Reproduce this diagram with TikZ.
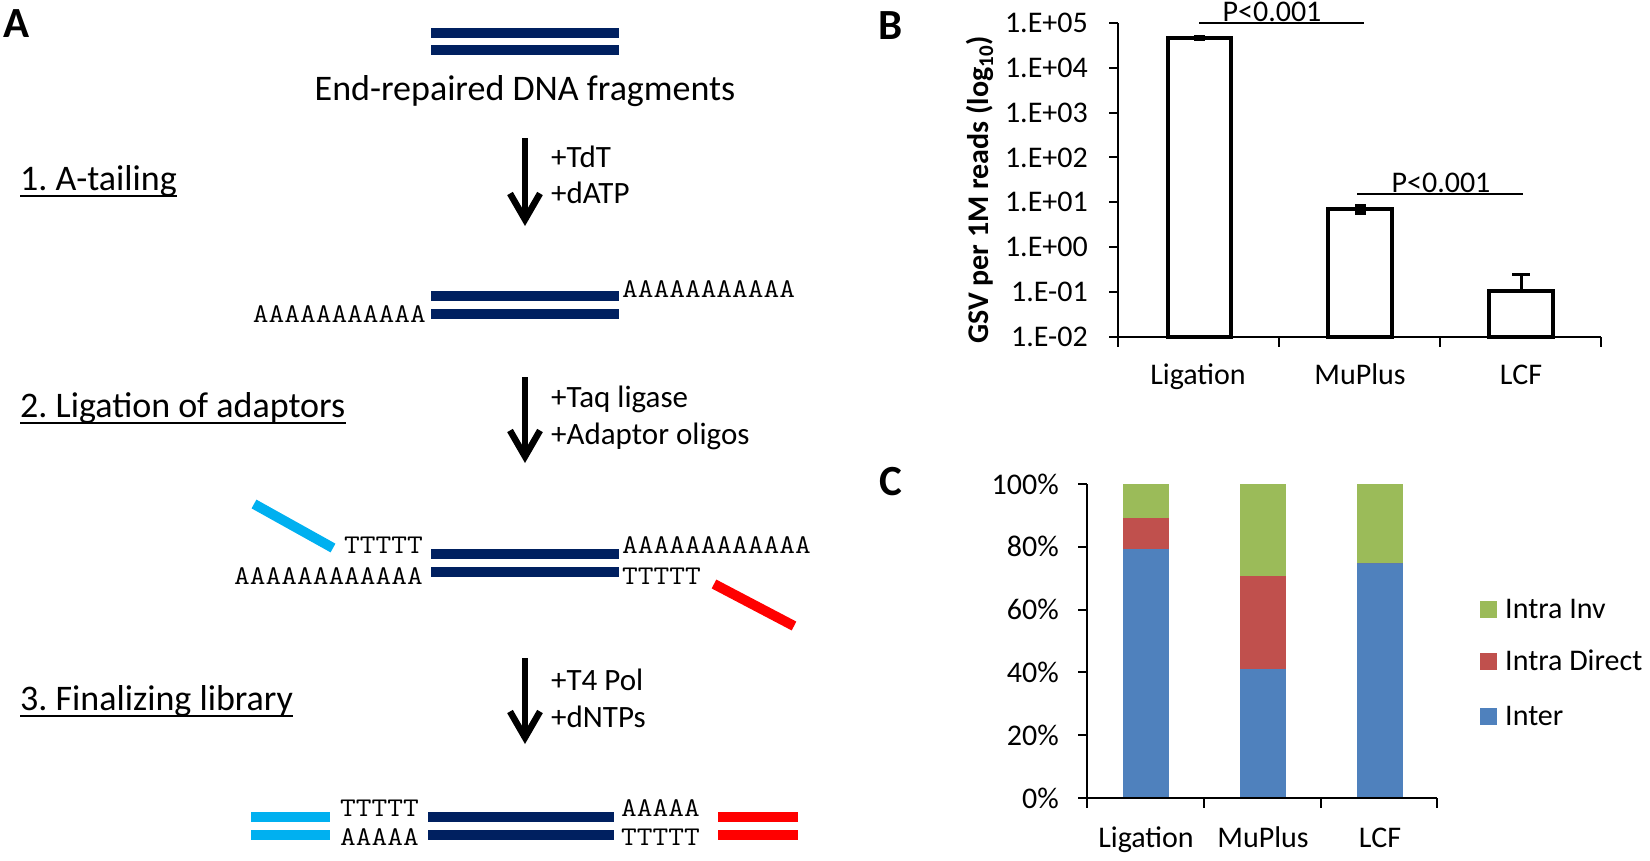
\documentclass[tikz,border=0pt]{standalone}
\usepackage{fontspec}
\setmainfont{Carlito}
\usepackage{graphicx}
\usepackage{tikz}
\usetikzlibrary{positioning}
\usetikzlibrary{arrows.meta}
\definecolor{navy}{HTML}{002060}
\definecolor{adcyan}{HTML}{00B0F0}
\definecolor{adred}{HTML}{FF0000}
\definecolor{xlblue}{HTML}{4F81BD}
\definecolor{xlred}{HTML}{C0504D}
\definecolor{xlgreen}{HTML}{9BBB59}
\newcommand\dna[1]{\scalebox{1.13}[1]{#1}}
\tikzset{%
  panel/.style = {inner sep=0pt,font=\fontsize{43}{43}\selectfont\bfseries},
  stepname/.style = {inner sep=0pt,anchor=base west,
        font=\fontsize{36}{40}\selectfont},
  reagent/.style = {inner sep=0pt,anchor=base west,
        font=\fontsize{31}{36}\selectfont},
  seq/.style = {inner sep=0pt,font=\fontsize{27}{29}\ttfamily},
  strand/.style = {line width=10.5pt,navy},
  adaptl/.style = {line width=10pt,adcyan},
  adaptr/.style = {line width=10pt,adred},
  reaction/.style = {line width=6pt,
        -{Straight Barb[length=26pt,width=30pt,line width=6.5pt]}},
  ticklbl/.style = {inner sep=0pt,anchor=east,
        font=\fontsize{30}{32}\selectfont},
  catlbl/.style = {inner sep=0pt,anchor=base,
        font=\fontsize{30}{32}\selectfont},
  axis/.style = {line width=2pt},
  logbar/.style = {line width=3.5pt,fill=white}
}

\begin{document}
\frenchspacing
\begin{tikzpicture}[x=1pt,y=-1pt]
  \useasboundingbox (0,0) rectangle (1650,860);

  % panel A
  \node[panel] (pa) at (17,24) {A};
  \node[stepname,anchor=base] (frag) at (525,100) {End-repaired DNA fragments};
  \draw[strand] (431,33) -- (619,33);
  \draw[strand] (431,50) -- (619,50);

  \node[stepname] (s1) at (20,190) {1. A-tailing};
  \node[stepname] (s2) at (20,417) {2. Ligation of adaptors};
  \node[stepname] (s3) at (20,710) {3. Finalizing library};
  \foreach \s in {s1,s2,s3}
    \draw[line width=2pt] ([yshift=-6pt]\s.base west) -- ([yshift=-6pt]\s.base east);

  \coordinate (t1) at (525,138);
  \coordinate (b1) at (525,226);
  \coordinate (t2) at (525,377);
  \coordinate (b2) at (525,463);
  \coordinate (t3) at (525,658);
  \coordinate (b3) at (525,744);
  \draw[reaction] (t1) -- (b1);
  \draw[reaction] (t2) -- (b2);
  \draw[reaction] (t3) -- (b3);

  \node[reagent] (tdt) at (551,167) {+TdT};
  \node[reagent] (datp) at ([yshift=-36pt]tdt.base west) {+dATP};
  \node[reagent] (taq) at (551,407) {+Taq ligase};
  \node[reagent] (oligo) at ([yshift=-37pt]taq.base west) {+Adaptor oligos};
  \node[reagent] (pol) at (551,690) {+T4 Pol};
  \node[reagent] (dntp) at ([yshift=-37pt]pol.base west) {+dNTPs};

  \draw[strand] (431,296) -- (619,296);
  \draw[strand] (431,314) -- (619,314);
  \node[seq,anchor=base west] (ta1) at (622,297) {\dna{AAAAAAAAAAA}};
  \node[seq,anchor=base east] (ta2) at (426,322) {\dna{AAAAAAAAAAA}};

  \draw[strand] (431,554) -- (619,554);
  \draw[strand] (431,572) -- (619,572);
  \node[seq,anchor=base east] (lt1) at (423,553) {\dna{TTTTT}};
  \node[seq,anchor=base west] (la1) at (622,553) {\dna{AAAAAAAAAAAA}};
  \node[seq,anchor=base east] (la2) at (423,584) {\dna{AAAAAAAAAAAA}};
  \node[seq,anchor=base west] (lt2) at (622,584) {\dna{TTTTT}};
  \draw[adaptl] (254,504) -- (333,548);
  \draw[adaptr] (714,584) -- (794,626);

  \draw[strand] (428,817) -- (614,817);
  \draw[strand] (428,835) -- (614,835);
  \draw[adaptl] (251,817) -- (330,817);
  \draw[adaptl] (251,835) -- (330,835);
  \draw[adaptr] (718,817) -- (798,817);
  \draw[adaptr] (718,835) -- (798,835);
  \node[seq,anchor=base east] (ft1) at (419,816) {\dna{TTTTT}};
  \node[seq,anchor=base east] (fa1) at (419,845) {\dna{AAAAA}};
  \node[seq,anchor=base west] (fa2) at (621,816) {\dna{AAAAA}};
  \node[seq,anchor=base west] (ft2) at (621,845) {\dna{TTTTT}};

  % panel B
  \node[panel] (pb) at (891,26) {B};
  \node[inner sep=0pt,anchor=base,rotate=90,font=\fontsize{30}{32}\selectfont\bfseries]
    (ylab) at (988,190) {GSV per 1M reads (log\textsubscript{10})};
  \draw[logbar] (1168,337) rectangle (1231,38);
  \draw[logbar] (1328,337) rectangle (1392,209);
  \draw[logbar] (1489,337) rectangle (1553,291);
  \fill (1194,35) rectangle (1205,41);
  \fill (1355,204) rectangle (1366,215);
  \draw[line width=3pt] (1521,291) -- (1521,274);
  \draw[line width=3pt] (1512,274) -- (1530,274);
  \draw[axis] (1118,23) -- (1118,337) -- (1601,337);
  \foreach \k/\lbl in {0/1.E-02,1/1.E-01,2/1.E+00,3/1.E+01,4/1.E+02,5/1.E+03,6/1.E+04,7/1.E+05}{
    \draw[axis] (1109,337-44.9*\k) -- (1118,337-44.9*\k);
    \node[ticklbl] (yb\k) at (1088,337-44.9*\k) {\lbl};
  }
  \foreach \x in {1118,1279,1440,1601}
    \draw[axis] (\x,337) -- (\x,347);
  \node[catlbl] (bl1) at (1198,384) {Ligation};
  \node[catlbl] (bl2) at (1360,384) {MuPlus};
  \node[catlbl] (bl3) at (1521,384) {LCF};
  \draw[axis] (1199,23) -- (1364,23);
  \node[catlbl] (p1) at (1272,21) {P<0.001};
  \draw[axis] (1357,194) -- (1523,194);
  \node[catlbl] (p2) at (1441,192) {P<0.001};

  % panel C
  \node[panel] (pc) at (891,482) {C};
  \foreach \cx/\a/\b in {1146/0.793/0.892,1263/0.411/0.706,1380/0.748/0.748}{
    \fill[xlblue] (\cx-23,798) rectangle (\cx+23,798-314*\a);
    \fill[xlred] (\cx-23,798-314*\a) rectangle (\cx+23,798-314*\b);
    \fill[xlgreen] (\cx-23,798-314*\b) rectangle (\cx+23,484);
  }
  \draw[axis] (1087,484) -- (1087,798) -- (1437,798);
  \foreach \k in {0,...,5}{
    \pgfmathtruncatemacro\pct{20*\k}
    \draw[axis] (1078,798-62.8*\k) -- (1087,798-62.8*\k);
    \node[ticklbl] (yc\k) at (1059,798-62.8*\k) {\pct\%};
  }
  \foreach \x in {1087,1204,1321,1437}
    \draw[axis] (\x,798) -- (\x,808);
  \node[catlbl] (cl1) at (1146,847) {Ligation};
  \node[catlbl] (cl2) at (1263,847) {MuPlus};
  \node[catlbl] (cl3) at (1380,847) {LCF};

  \fill[xlgreen] (1480,601) rectangle (1497,618);
  \fill[xlred] (1480,653) rectangle (1497,670);
  \fill[xlblue] (1480,708) rectangle (1497,725);
  \node[catlbl,anchor=base west] (lg1) at (1505,618) {Intra Inv};
  \node[catlbl,anchor=base west] (lg2) at (1505,670) {Intra Direct};
  \node[catlbl,anchor=base west] (lg3) at (1505,725) {Inter};
\end{tikzpicture}
\end{document}
